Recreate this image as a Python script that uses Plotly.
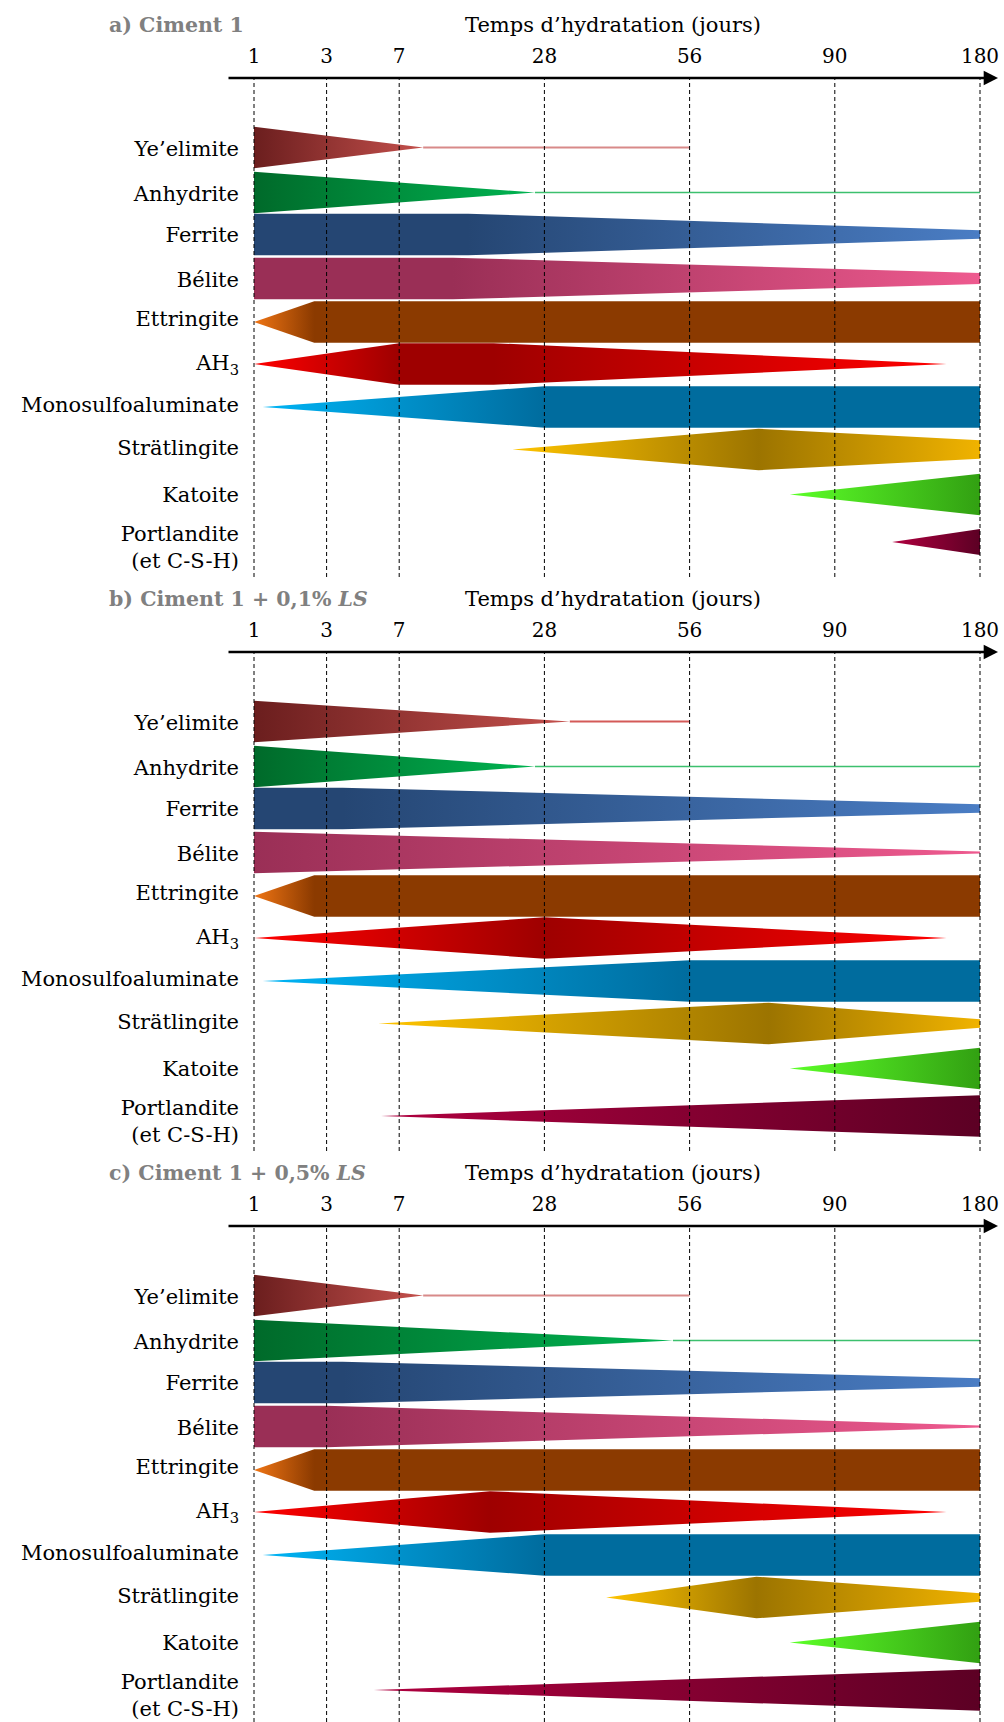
import plotly.graph_objects as go
from plotly.subplots import make_subplots

# Échéances (jours) et leur place sur l'axe du temps (échelle non linéaire)
JOURS = [1, 3, 7, 28, 56, 90, 180]
RANG_JOURS = [0, 1, 2, 4, 6, 8, 10]

PANNEAUX = ["a) Ciment 1", "b) Ciment 1 + 0,1% <i>LS</i>", "c) Ciment 1 + 0,5% <i>LS</i>"]
PHASES = ["Ye’elimite", "Anhydrite", "Ferrite", "Bélite", "Ettringite", "AH<sub>3</sub>",
          "Monosulfoaluminate", "Strätlingite", "Katoite", "Portlandite<br>(et C-S-H)"]

# Profils : abscisses (sur l'échelle de l'axe) et demi-épaisseur relative, pour a, b, c
YEELIMITE_X = [[0, 2.33], [0, 4.35], [0, 2.33]]
YEELIMITE_E = [[1, 0], [1, 0], [1, 0]]
YEELIMITE_FIN = [6, 6, 6]
ANHYDRITE_X = [[0, 3.87], [0, 3.87], [0, 5.77]]
ANHYDRITE_E = [[1, 0], [1, 0], [1, 0]]
ANHYDRITE_FIN = [10, 10, 10]
FERRITE_X = [[0, 2.95, 10], [0, 1.22, 10], [0, 1.22, 10]]
FERRITE_E = [[1, 1, 0.2], [1, 1, 0.2], [1, 1, 0.2]]
BELITE_X = [[0, 2.74, 10], [0, 10], [0, 1.0, 10]]
BELITE_E = [[1, 1, 0.26], [1, 0.05], [1, 1, 0.05]]
ETTRINGITE_X = [[0, 0.83, 10], [0, 0.83, 10], [0, 0.83, 10]]
ETTRINGITE_E = [[0, 1, 1], [0, 1, 1], [0, 1, 1]]
AH3_X = [[0, 2.0, 3.3, 9.54], [0, 4.0, 9.54], [0, 3.25, 9.54]]
AH3_E = [[0, 1, 1, 0], [0, 1, 0], [0, 1, 0]]
MONOSULFO_X = [[0.12, 4.0, 10], [0.12, 6.0, 10], [0.12, 4.0, 10]]
MONOSULFO_E = [[0, 1, 1], [0, 1, 1], [0, 1, 1]]
STRATLINGITE_X = [[3.56, 6.95, 10], [1.71, 7.09, 10], [4.85, 6.92, 10]]
STRATLINGITE_E = [[0, 1, 0.45], [0, 1, 0.2], [0, 1, 0.2]]
KATOITE_X = [[7.38, 10], [7.38, 10], [7.38, 10]]
KATOITE_E = [[0, 1], [0, 1], [0, 1]]
PORTLANDITE_X = [[8.79, 10], [1.75, 10], [1.65, 10]]
PORTLANDITE_E = [[0, 0.62], [0, 1], [0, 1]]

PROFILS_X = [YEELIMITE_X, ANHYDRITE_X, FERRITE_X, BELITE_X, ETTRINGITE_X,
             AH3_X, MONOSULFO_X, STRATLINGITE_X, KATOITE_X, PORTLANDITE_X]
PROFILS_E = [YEELIMITE_E, ANHYDRITE_E, FERRITE_E, BELITE_E, ETTRINGITE_E,
             AH3_E, MONOSULFO_E, STRATLINGITE_E, KATOITE_E, PORTLANDITE_E]

# Couleurs : (début, maximum, fin)
COULEURS = [
    ("#6b1e1e", "#6b1e1e", "#c4504c"),
    ("#006a2a", "#006a2a", "#00b451"),
    ("#254673", "#254673", "#4a7dc4"),
    ("#9a2f56", "#9a2f56", "#ee5a8f"),
    ("#f07514", "#8b3a00", "#8b3a00"),
    ("#ff0000", "#9e0000", "#ff0000"),
    ("#00b4f5", "#006c9e", "#006c9e"),
    ("#ffc400", "#9c7400", "#f0b300"),
    ("#5cff28", "#32a012", "#32a012"),
    ("#b0003f", "#5c0024", "#5c0024"),
]
COULEUR_TRAINEE_YE = ["#d88a89", "#d45a58", "#d88a89"]

# Mise en page (pixels)
LARG, HAUT = 1004, 1722
PAS = 574                    # décalage vertical entre panneaux
Y_AXE = 78                   # flèche du temps
Y_BAS = 577                  # fin des pointillés
X_ZERO, X_UNITE = 254, 72.6  # position du jour 1 et largeur d'un rang
X_GAUCHE = 240
ROW_Y = [147.5, 192.5, 234.5, 278.5, 322, 364, 407, 449.5, 494.5, 542]
LABEL_Y = [149, 194, 235, 280, 319, 363, 405, 448, 495, 547]
DEMI = 20.8
POLICE = "DejaVu Serif"


def en_rang(px):
    return (px - X_ZERO) / X_UNITE


fig = make_subplots(rows=3, cols=1)

for k in range(3):
    n = "" if k == 0 else str(k + 1)
    haut_px = Y_AXE + PAS * k
    bas_px = min(Y_BAS + PAS * k, HAUT)

    for i in range(len(PHASES)):
        xs = PROFILS_X[i][k]
        ep = PROFILS_E[i][k]
        yc = ROW_Y[i]
        debut, pic, fin = COULEURS[i]
        emax = max(ep)
        echelle = []
        for j, (x, e) in enumerate(zip(xs, ep)):
            if e == emax:
                c = pic
            elif j == 0:
                c = debut
            else:
                c = fin
            echelle.append([(x - xs[0]) / (xs[-1] - xs[0]), c])
        px = list(xs) + list(xs[::-1])
        py = [yc - e * DEMI for e in ep] + [yc + e * DEMI for e in ep[::-1]]
        fig.add_trace(
            go.Scatter(
                x=px, y=py, mode="lines", fill="toself",
                fillgradient=dict(type="horizontal", colorscale=echelle,
                                  start=xs[0], stop=xs[-1]),
                line=dict(width=0), hoverinfo="skip", showlegend=False,
            ),
            row=k + 1, col=1,
        )

    # Traînées fines (phases résiduelles)
    fig.add_trace(go.Scatter(
        x=[YEELIMITE_X[k][-1], YEELIMITE_FIN[k]], y=[ROW_Y[0], ROW_Y[0]], mode="lines",
        line=dict(color=COULEUR_TRAINEE_YE[k], width=2), hoverinfo="skip", showlegend=False),
        row=k + 1, col=1)
    fig.add_trace(go.Scatter(
        x=[ANHYDRITE_X[k][-1], ANHYDRITE_FIN[k]], y=[ROW_Y[1], ROW_Y[1]], mode="lines",
        line=dict(color="#3cc06e", width=1.5), hoverinfo="skip", showlegend=False),
        row=k + 1, col=1)

    # Pointillés verticaux aux échéances
    for v in RANG_JOURS:
        fig.add_shape(type="line", x0=v, x1=v, xref="x" + n, yref="y" + n + " domain",
                      y0=0, y1=1, layer="above",
                      line=dict(color="black", width=1, dash="4px,3px"))

    # Flèche du temps
    fig.add_annotation(x=en_rang(998), y=Y_AXE, xref="x" + n, yref="y" + n,
                       ax=en_rang(227), ay=Y_AXE, axref="x" + n, ayref="y" + n,
                       text="", showarrow=True, arrowhead=2, arrowsize=1.1,
                       arrowwidth=2.6, arrowcolor="black", standoff=0)

    # Titres
    fig.add_annotation(x=107 / LARG, y=1 - (25 + PAS * k) / HAUT, xref="paper", yref="paper",
                       xanchor="left", yanchor="middle", showarrow=False,
                       text="<b>" + PANNEAUX[k] + "</b>",
                       font=dict(family=POLICE, size=20.5, color="#808080"))
    fig.add_annotation(x=613 / LARG, y=1 - (25 + PAS * k) / HAUT, xref="paper", yref="paper",
                       xanchor="center", yanchor="middle", showarrow=False,
                       text="Temps d’hydratation (jours)",
                       font=dict(family=POLICE, size=21, color="black"))

    fig.update_layout({
        "xaxis" + n: dict(
            domain=[X_GAUCHE / LARG, 1],
            range=[en_rang(X_GAUCHE), en_rang(LARG)],
            side="top", tickmode="array", tickvals=RANG_JOURS,
            ticktext=[str(j) for j in JOURS], ticks="", ticklabelstandoff=10,
            ticklabeloverflow="allow",
            showgrid=False, zeroline=False, showline=False,
            tickfont=dict(family=POLICE, size=20, color="black"),
        ),
        "yaxis" + n: dict(
            domain=[1 - bas_px / HAUT, 1 - haut_px / HAUT],
            range=[bas_px - PAS * k, Y_AXE],
            tickmode="array", tickvals=LABEL_Y, ticktext=PHASES, ticks="",
            showgrid=False, zeroline=False, showline=False,
            tickfont=dict(family=POLICE, size=21, color="black"),
        ),
    })

fig.update_layout(
    width=LARG, height=HAUT,
    margin=dict(l=0, r=0, t=0, b=0),
    plot_bgcolor="white", paper_bgcolor="white",
    showlegend=False,
    font=dict(family=POLICE),
)

# la page ne doit pas décaler la figure (marge par défaut du navigateur)
fig.write_html("out.html", config={"displayModeBar": False},
               post_script="document.body.style.margin = '0';")
